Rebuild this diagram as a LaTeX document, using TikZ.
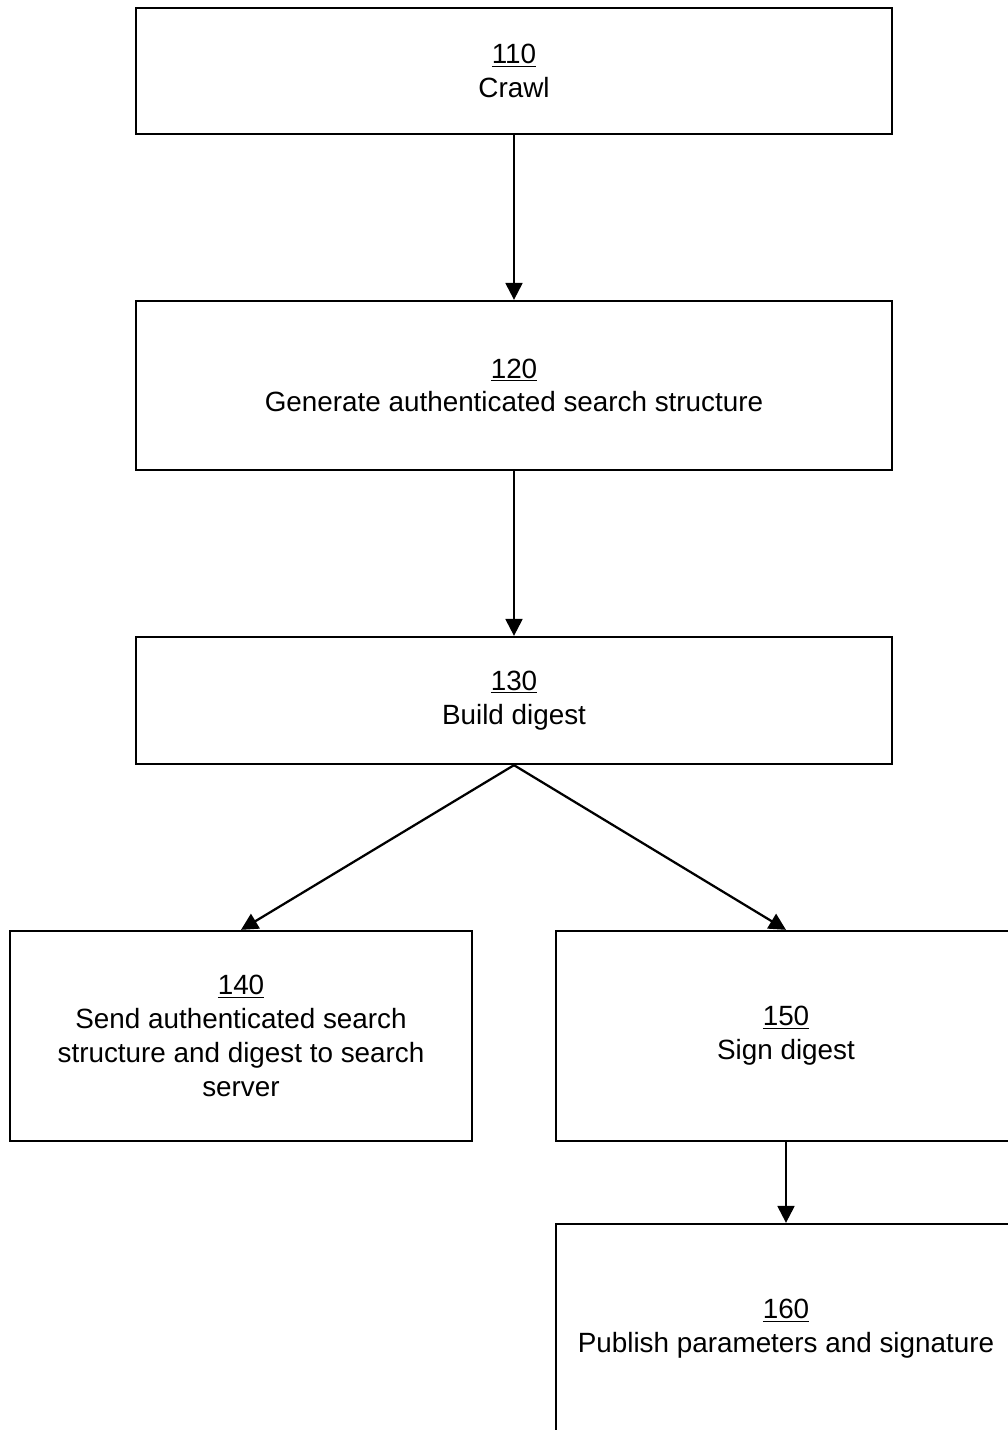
\documentclass[tikz,border=0pt]{standalone}
\usepackage{fontspec}
\setmainfont{Liberation Sans}
\usetikzlibrary{arrows.meta}

\tikzset{
    stepbox/.style={draw,line width=1.6pt,align=center,inner sep=0pt,
        font=\fontsize{19.8}{24}\selectfont},
    flow/.style={line width=1.6pt,-{Triangle[length=12pt,width=12pt]}}
}

\begin{document}
\begin{tikzpicture}[x=0.025cm,y=-0.025cm]
    \useasboundingbox (0,0) rectangle (1008,1430);
    \clip (0,0) rectangle (1008,1430);
    \node[stepbox,minimum width=18.9cm,minimum height=3.15cm] (crawl) at (514,71) {\underline{110}\\Crawl};
    \node[stepbox,minimum width=18.9cm,minimum height=4.225cm] (gen) at (514,385.5) {\underline{120}\\Generate authenticated search structure};
    \node[stepbox,minimum width=18.9cm,minimum height=3.175cm] (digest) at (514,700.5) {\underline{130}\\Build digest};
    \node[stepbox,minimum width=11.55cm,minimum height=5.25cm] (send) at (241,1036) {\underline{140}\\Send authenticated search\\structure and digest to search\\server};
    \node[stepbox,minimum width=11.5cm,minimum height=5.25cm] (sign) at (786,1036) {\underline{150}\\Sign digest};
    \node[stepbox,minimum width=11.5cm,minimum height=5.25cm] (publish) at (786,1329) {\underline{160}\\Publish parameters and signature};
    \draw[flow] (crawl) -- (gen);
    \draw[flow] (gen) -- (digest);
    \draw[flow] (digest.south) -- (send.north);
    \draw[flow] (digest.south) -- (sign.north);
    \draw[flow] (sign) -- (publish);
\end{tikzpicture}
\end{document}
